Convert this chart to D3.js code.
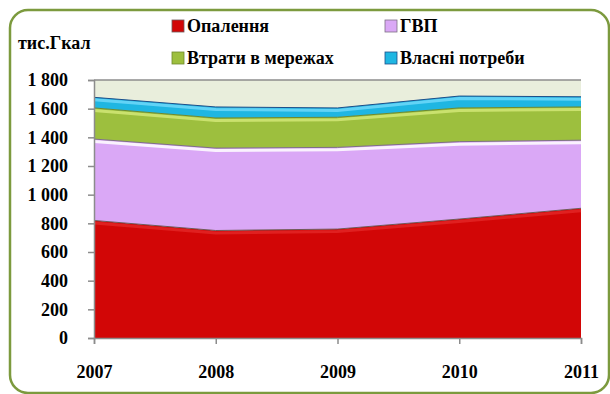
<!DOCTYPE html>
<html>
<head>
<meta charset="utf-8">
<script src="https://cdn.jsdelivr.net/npm/d3@7"></script>
<style>
  html, body { margin: 0; padding: 0; background: #fff; }
</style>
</head>
<body>
<svg id="chart" width="610" height="394"></svg>
<script>
// Heat balance, thousand Gcal
const years = [2007, 2008, 2009, 2010, 2011];
const heating = [820, 750, 760, 830, 905];     // Опалення
const hotWater = [568, 575, 570, 540, 475];    // ГВП
const losses = [217, 210, 210, 235, 232];      // Втрати в мережах
const ownNeeds = [74, 77, 65, 83, 71];         // Власні потреби
const yTicks = [0, 200, 400, 600, 800, 1000, 1200, 1400, 1600, 1800];

const seriesNames = ["Опалення", "ГВП", "Втрати в мережах", "Власні потреби"];
const seriesKeys = ["heating", "hotWater", "losses", "ownNeeds"];
const fills = ["#d20606", "#daa8f6", "#9dbf3e", "#1fb6e2"];
const edges = ["#6e5a5a", "#7d6f86", "#6f8a2c", "#1d4f8a"];
const shines = ["#ee3a3a", "#ffffff", "#d6ea7a", "#7fe0ff"];
const shineOpacity = [0.5, 0.85, 0.8, 0.7];

const FONT = "Liberation Serif";
const FS = 18;

const rows = years.map((yr, i) => ({
  year: yr, heating: heating[i], hotWater: hotWater[i], losses: losses[i], ownNeeds: ownNeeds[i]
}));

const svg = d3.select("#chart");
const plotL = 94, plotR = 581, plotT = 80, plotB = 338;

const x = d3.scaleLinear().domain([2007, 2011]).range([plotL, plotR]);
const y = d3.scaleLinear().domain([0, 1800]).range([plotB, plotT]);

// outer rounded frame
svg.append("rect")
  .attr("x", 10).attr("y", 10).attr("width", 599).attr("height", 383)
  .attr("rx", 18).attr("ry", 18)
  .attr("fill", "#fff").attr("stroke", "#7c9a3e").attr("stroke-width", 2.5);

// plot background
svg.append("rect")
  .attr("x", plotL).attr("y", plotT).attr("width", plotR - plotL).attr("height", plotB - plotT)
  .attr("fill", "#e9eedc");

const layers = d3.stack().keys(seriesKeys)(rows);

const area = d3.area()
  .x(d => x(d.data.year))
  .y0(d => y(d[0]))
  .y1(d => y(d[1]));

const topLine = d3.line()
  .x(d => x(d.data.year))
  .y(d => y(d[1]));

const g = svg.append("g");
layers.forEach((layer, i) => {
  g.append("path").attr("d", area(layer)).attr("fill", fills[i]);
});
// shine just under each top edge, then a darker rim on the edge itself
layers.forEach((layer, i) => {
  g.append("path").attr("d", topLine(layer))
    .attr("fill", "none").attr("stroke", shines[i]).attr("stroke-opacity", shineOpacity[i])
    .attr("stroke-width", 3).attr("transform", "translate(0,2.5)");
  g.append("path").attr("d", topLine(layer))
    .attr("fill", "none").attr("stroke", edges[i]).attr("stroke-width", 1);
});

// plot frame line at the top
svg.append("line").attr("x1", plotL).attr("x2", plotR).attr("y1", plotT).attr("y2", plotT)
  .attr("stroke", "#8c8c8c").attr("stroke-width", 1.5);

function styleAxis(sel) {
  sel.attr("font-family", FONT).attr("font-size", FS).attr("font-weight", "bold");
  sel.select(".domain").attr("stroke", "#8c8c8c").attr("stroke-width", 1.5);
  sel.selectAll(".tick line").attr("stroke", "#8c8c8c").attr("stroke-width", 1.5);
  sel.selectAll("text").attr("fill", "#000");
}

// y axis
const yAxis = d3.axisLeft(y).tickValues(yTicks).tickSize(6).tickPadding(20)
  .tickFormat(d => d3.format(",")(d).replace(/,/g, " "));
svg.append("g").attr("transform", `translate(${plotL},0)`).call(yAxis).call(styleAxis);

// x axis
const xAxis = d3.axisBottom(x).tickValues(years).tickSize(6).tickPadding(21).tickFormat(d3.format("d"));
svg.append("g").attr("transform", `translate(0,${plotB})`).call(xAxis).call(styleAxis);

// unit label
svg.append("text").attr("x", 18).attr("y", 49)
  .attr("font-family", FONT).attr("font-size", FS).attr("font-weight", "bold")
  .text("тис.Гкал");

// legend
const legendPos = [[172, 26], [385, 26], [172, 58], [385, 58]];
seriesNames.forEach((name, i) => {
  const [lx, ly] = legendPos[i];
  svg.append("rect").attr("x", lx).attr("y", ly - 6).attr("width", 12).attr("height", 12)
    .attr("fill", fills[i]).attr("stroke", edges[i]).attr("stroke-width", 0.8);
  svg.append("text").attr("x", lx + 15).attr("y", ly + 6)
    .attr("font-family", FONT).attr("font-size", FS).attr("font-weight", "bold")
    .text(name);
});
</script>
</body>
</html>
